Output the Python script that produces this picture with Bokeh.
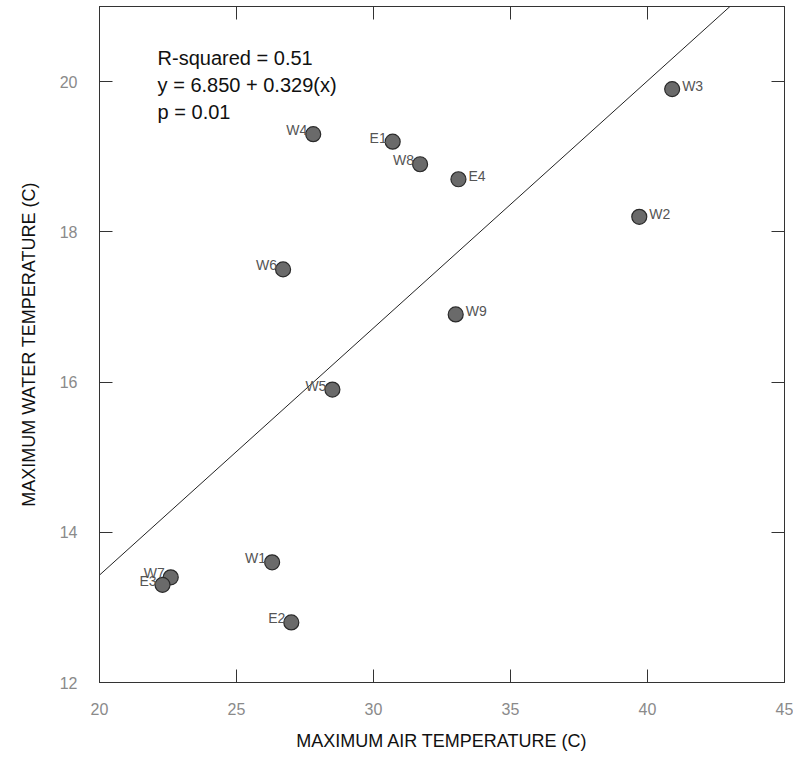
from bokeh.plotting import figure
from bokeh.models import ColumnDataSource, LinearAxis, Label, FixedTicker, Range1d
from bokeh.embed import file_html
from bokeh.resources import INLINE
from bokeh.core.properties import value

# ---- data ----
sites = ["W1", "W2", "W3", "W4", "W5", "W6", "W7", "W8", "W9", "E1", "E2", "E3", "E4"]
air_temp = [26.3, 39.7, 40.9, 27.8, 28.5, 26.7, 22.6, 31.7, 33.0, 30.7, 27.0, 22.3, 33.1]
water_temp = [13.6, 18.2, 19.9, 19.3, 15.9, 17.5, 13.4, 18.9, 16.9, 19.2, 12.8, 13.3, 18.7]
label_side = ["left", "right", "right", "left", "left", "left", "left", "left", "right", "left", "left", "left", "right"]

intercept = 6.850
slope = 0.329
stats_lines = ["R-squared = 0.51", "y = 6.850 + 0.329(x)", "p = 0.01"]

x_ticks = [20, 25, 30, 35, 40, 45]
y_ticks = [12, 14, 16, 18, 20]
x_title = "MAXIMUM AIR TEMPERATURE (C)"
y_title = "MAXIMUM WATER TEMPERATURE (C)"

X0, X1 = 20, 45
Y0, Y1 = 12, 21

FONT = "Liberation Sans"

p = figure(width=793, height=758, frame_width=685, frame_height=676,
           min_border_left=99, min_border_right=9, min_border_top=6, min_border_bottom=76,
           x_range=Range1d(X0, X1), y_range=Range1d(Y0, Y1),
           output_backend="svg", toolbar_location=None,
           x_axis_location=None, y_axis_location=None)
p.grid.visible = False
p.outline_line_color = "#333333"
p.outline_line_width = 1
p.background_fill_color = "white"
p.border_fill_color = "white"

# bottom
xb = LinearAxis(ticker=FixedTicker(ticks=x_ticks))
xb.major_tick_in = 13; xb.major_tick_out = 0
xb.axis_line_color = "#333333"; xb.major_tick_line_color = "#333333"
xb.major_label_text_font = FONT
xb.major_label_text_font_size = "16px"
xb.major_label_text_color = "#8a8a8a"
xb.major_label_standoff = 20
xb.axis_label = x_title
xb.axis_label_text_font = FONT
xb.axis_label_text_font_size = "18px"
xb.axis_label_text_font_style = "normal"
xb.axis_label_text_color = "#111111"
xb.axis_label_standoff = 13
p.add_layout(xb, "below")

# left
yl = LinearAxis(ticker=FixedTicker(ticks=y_ticks))
yl.major_tick_in = 13; yl.major_tick_out = 0
yl.axis_line_color = "#333333"; yl.major_tick_line_color = "#333333"
yl.major_label_text_font = FONT
yl.major_label_text_font_size = "16px"
yl.major_label_text_color = "#8a8a8a"
yl.major_label_standoff = 22
yl.axis_label = y_title
yl.axis_label_text_font = FONT
yl.axis_label_text_font_size = "18px"
yl.axis_label_text_font_style = "normal"
yl.axis_label_text_color = "#111111"
yl.axis_label_standoff = 18
p.add_layout(yl, "left")

# top and right: ticks only
xt = LinearAxis(ticker=FixedTicker(ticks=x_ticks))
yr = LinearAxis(ticker=FixedTicker(ticks=y_ticks))
for ax in (xt, yr):
    ax.major_tick_in = 13; ax.major_tick_out = 0
    ax.axis_line_color = "#333333"; ax.major_tick_line_color = "#333333"
    ax.major_label_text_font_size = "0px"
    ax.major_label_text_color = None
    ax.major_label_standoff = 0
p.add_layout(xt, "above")
p.add_layout(yr, "right")

# regression line from the fitted equation
lx = [X0, X1]
ly = [intercept + slope * v for v in lx]
p.line(lx, ly, line_color="#222222", line_width=1)

# points
src = ColumnDataSource(dict(x=air_temp, y=water_temp, name=sites))
p.scatter("x", "y", source=src, size=15, fill_color="#6a6a6a",
          line_color="#2a2a2a", line_width=1.2, marker="circle")

left_idx = [i for i, s in enumerate(label_side) if s == "left"]
right_idx = [i for i, s in enumerate(label_side) if s == "right"]
src_l = ColumnDataSource(dict(x=[air_temp[i] for i in left_idx], y=[water_temp[i] for i in left_idx],
                              t=[sites[i] for i in left_idx]))
src_r = ColumnDataSource(dict(x=[air_temp[i] for i in right_idx], y=[water_temp[i] for i in right_idx],
                              t=[sites[i] for i in right_idx]))
p.text("x", "y", text="t", source=src_l, text_align="right", text_baseline="middle",
       x_offset=-6, y_offset=-4, text_font=value(FONT), text_font_size="14px", text_color="#555555")
p.text("x", "y", text="t", source=src_r, text_align="left", text_baseline="middle",
       x_offset=10, y_offset=-3, text_font=value(FONT), text_font_size="14px", text_color="#555555")

# statistics text
ys = [20.32, 19.95, 19.59]
for t, yv in zip(stats_lines, ys):
    p.add_layout(Label(x=22.12, y=yv, text=t, text_font=FONT, text_font_size="20px",
                       text_color="#111111", text_baseline="alphabetic", text_align="left"))

open("out.html", "w").write(file_html(p, INLINE))
